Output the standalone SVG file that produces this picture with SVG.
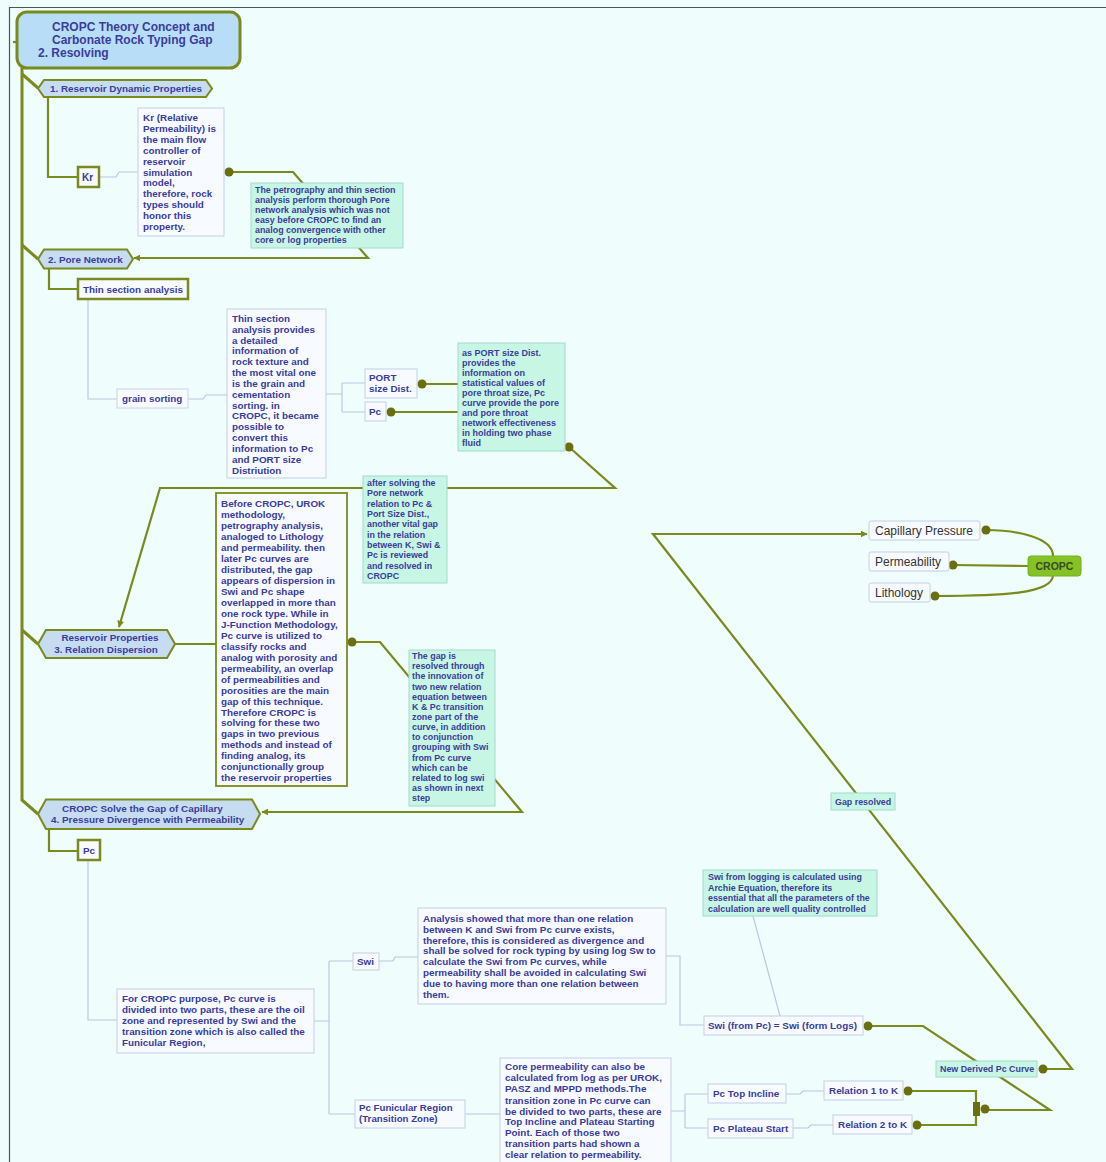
<svg xmlns="http://www.w3.org/2000/svg" width="1106" height="1162" viewBox="0 0 1106 1162">
<style>
.bg{fill:#effdfd}
.t{font-family:"Liberation Sans",Arial,sans-serif;font-weight:bold;fill:#3a3c9c}
.r{font-family:"Liberation Sans",Arial,sans-serif;fill:#333}
.olive{fill:none;stroke:#7a8a1c;stroke-width:2.2}
.trunk{fill:none;stroke:#7a8a1c;stroke-width:3}
.thin{fill:none;stroke:#b9c8e2;stroke-width:1.2}
.hex{fill:#c6dcf1;stroke:#7a8a1c;stroke-width:2}
.box{fill:#f7fbff;stroke:#c2cfe8;stroke-width:1}
.tbox{fill:#f7fbff;stroke:#7a8a1c;stroke-width:2.5}
.mint{fill:#c8f6e4;stroke:#a6d9c9;stroke-width:1}
.dot{fill:#6b6e0c}
.gbox{fill:#f7fbff;stroke:#c8d4ec;stroke-width:1}
</style>
<defs>
<marker id="arr" viewBox="0 0 10 10" refX="9" refY="5" markerWidth="7" markerHeight="7" orient="auto" markerUnits="userSpaceOnUse">
<path d="M0,0 L10,5 L0,10 z" fill="#7a8a1c"/>
</marker>
</defs>
<rect class="bg" x="0" y="0" width="1106" height="1162"/>
<path d="M9,7.5 H1106 M9.5,7 V1162" stroke="#4a5858" stroke-width="1.2" fill="none"/>
<g id="connectors">
<path class="trunk" d="M22,68 V800 L38,814"/>
<path class="trunk" d="M22,74 L38,88"/>
<path class="trunk" d="M22,245 L38,259"/>
<path class="trunk" d="M22,630 L38,644"/>
<path class="olive" d="M13,42 H17"/>
<path class="olive" d="M48,97 V177 H78"/>
<path class="olive" d="M49,269 V289 H78"/>
<path class="olive" d="M49,830 V851 H78"/>
<path class="olive" d="M175,644 H216"/>
<path class="thin" d="M99,177 H116 L119,172 H138"/>
<path class="thin" d="M88,299 V399 H117"/>
<path class="thin" d="M188,399 H203 L206,395 H227"/>
<path class="thin" d="M326,394 H342 M342,383 V412 M342,383 H365 M342,412 H365"/>
<path class="thin" d="M88,860 V1020 H117"/>
<path class="thin" d="M314,1021 H329 M329,961 V1114 M329,961 H353 M329,1114 H355"/>
<path class="thin" d="M379,961 H393 L395,957 H418"/>
<path class="thin" d="M666,956 H680 V1025 H704"/>
<path class="thin" d="M753,916 L780,1016"/>
<path class="thin" d="M465,1114 H500"/>
<path class="thin" d="M671,1111 H685 M685,1094 V1128 M685,1094 H708 M685,1128 H708"/>
<path class="thin" d="M786,1094 H800 L803,1091 H824"/>
<path class="thin" d="M793,1128 H808 L811,1125 H833"/>
<path class="olive" d="M229,172 H293 L368,258 H134" marker-end="url(#arr)"/>
<path class="olive" d="M422,384 H458 M391,412 H458"/>
<path class="olive" d="M569,447 L615,488 H160 L119,627" marker-end="url(#arr)"/>
<path class="olive" d="M352,642 H380 L522,812 H262" marker-end="url(#arr)"/>
<path class="olive" d="M868,1026 H923 L1050,1110 H985"/>
<path class="olive" d="M908,1091 H976 V1103 M917,1125 H976 V1116"/>
<rect x="973" y="1102" width="7" height="14" fill="#6b6e0c"/>
<path class="olive" d="M1043,1069 H1072 L653,534 H867" marker-end="url(#arr)"/>
<path class="olive" d="M1053,556 C1053,536 1012,530 986,530"/>
<path class="olive" d="M1028,566 L953,565"/>
<path class="olive" d="M1053,575 C1053,594 1000,596 935,596"/>
<circle class="dot" cx="229" cy="172" r="4.5"/>
<circle class="dot" cx="422" cy="384" r="4.5"/>
<circle class="dot" cx="391" cy="412" r="4.5"/>
<circle class="dot" cx="569" cy="447" r="4.5"/>
<circle class="dot" cx="352" cy="642" r="4.5"/>
<circle class="dot" cx="868" cy="1026" r="4.5"/>
<circle class="dot" cx="908" cy="1091" r="4.5"/>
<circle class="dot" cx="917" cy="1125" r="4.5"/>
<circle class="dot" cx="985" cy="1109" r="4.5"/>
<circle class="dot" cx="1043" cy="1069" r="4.5"/>
<circle class="dot" cx="986" cy="530" r="4.5"/>
<circle class="dot" cx="953" cy="565" r="4.5"/>
<circle class="dot" cx="935" cy="596" r="4.5"/>
</g>
<g id="title">
<rect x="17" y="12" width="223" height="56" rx="10" fill="#b8def7" stroke="#7a8a1c" stroke-width="3"/>
<text class="t" font-size="12"><tspan x="52" y="31">CROPC Theory Concept and</tspan><tspan x="52" y="44">Carbonate Rock Typing Gap</tspan><tspan x="38" y="57">2. Resolving</tspan></text>
</g>
<g id="n1">
<path class="hex" d="M38,88.5 L44,80 H206 L212,88.5 L206,97 H44 Z"/>
<text class="t" font-size="9.9" x="50" y="92">1. Reservoir Dynamic Properties</text>
</g>
<g id="kr">
<rect class="tbox" x="78" y="167" width="21" height="20"/>
<text class="t" font-size="10" x="82" y="181">Kr</text>
</g>
<g id="krnote">
<rect class="box" x="138" y="108" width="86" height="128"/>
<text class="t" font-size="9.9"><tspan x="143" y="121">Kr (Relative</tspan><tspan x="143" y="132">Permeability) is</tspan><tspan x="143" y="143">the main flow</tspan><tspan x="143" y="154">controller of</tspan><tspan x="143" y="165">reservoir</tspan><tspan x="143" y="176">simulation</tspan><tspan x="143" y="186">model,</tspan><tspan x="143" y="197">therefore, rock</tspan><tspan x="143" y="208">types should</tspan><tspan x="143" y="219">honor this</tspan><tspan x="143" y="230">property.</tspan></text>
</g>
<g id="petronote">
<rect class="mint" x="251" y="183" width="152" height="65"/>
<text class="t" font-size="8.9"><tspan x="255" y="193">The petrography and thin section</tspan><tspan x="255" y="203">analysis perform thorough Pore</tspan><tspan x="255" y="213">network analysis which was not</tspan><tspan x="255" y="223">easy before CROPC to find an</tspan><tspan x="255" y="233">analog convergence with other</tspan><tspan x="255" y="243">core or log properties</tspan></text>
</g>
<g id="n2">
<path class="hex" d="M38,259 L44,249.5 H127 L133,259 L127,268.5 H44 Z"/>
<text class="t" font-size="9.9" x="48" y="262.5">2. Pore Network</text>
</g>
<g id="thin">
<rect class="tbox" x="78" y="279" width="110" height="20"/>
<text class="t" font-size="9.9" x="83" y="293">Thin section analysis</text>
</g>
<g id="grain">
<rect class="gbox" x="117" y="389" width="71" height="19"/>
<text class="t" font-size="9.9" x="122" y="402">grain sorting</text>
</g>
<g id="thinnote">
<rect class="box" x="227" y="309" width="99" height="169"/>
<text class="t" font-size="9.9"><tspan x="232" y="322">Thin section</tspan><tspan x="232" y="333">analysis provides</tspan><tspan x="232" y="344">a detailed</tspan><tspan x="232" y="354">information of</tspan><tspan x="232" y="365">rock texture and</tspan><tspan x="232" y="376">the most vital one</tspan><tspan x="232" y="387">is the grain and</tspan><tspan x="232" y="398">cementation</tspan><tspan x="232" y="409">sorting. in</tspan><tspan x="232" y="419">CROPC, it became</tspan><tspan x="232" y="430">possible to</tspan><tspan x="232" y="441">convert this</tspan><tspan x="232" y="452">information to Pc</tspan><tspan x="232" y="463">and PORT size</tspan><tspan x="232" y="474">Distriution</tspan></text>
</g>
<g id="port">
<rect class="box" x="365" y="369" width="52" height="29"/>
<text class="t" font-size="9.9"><tspan x="369" y="381">PORT</tspan><tspan x="369" y="392">size Dist.</tspan></text>
</g>
<g id="pc1">
<rect class="box" x="365" y="402" width="21" height="19"/>
<text class="t" font-size="9.9" x="369" y="415">Pc</text>
</g>
<g id="portnote">
<rect class="mint" x="458" y="343" width="107" height="108"/>
<text class="t" font-size="9"><tspan x="462" y="356">as PORT size Dist.</tspan><tspan x="462" y="366">provides the</tspan><tspan x="462" y="376">information on</tspan><tspan x="462" y="386">statistical values of</tspan><tspan x="462" y="396">pore throat size, Pc</tspan><tspan x="462" y="406">curve provide the pore</tspan><tspan x="462" y="416">and pore throat</tspan><tspan x="462" y="426">network effectiveness</tspan><tspan x="462" y="436">in holding two phase</tspan><tspan x="462" y="446">fluid</tspan></text>
</g>
<g id="afternote">
<rect class="mint" x="363" y="476" width="84" height="107"/>
<text class="t" font-size="8.9"><tspan x="367" y="486">after solving the</tspan><tspan x="367" y="496">Pore network</tspan><tspan x="367" y="507">relation to Pc &amp;</tspan><tspan x="367" y="517">Port Size Dist.,</tspan><tspan x="367" y="527">another vital gap</tspan><tspan x="367" y="538">in the relation</tspan><tspan x="367" y="548">between K, Swi &amp;</tspan><tspan x="367" y="558">Pc is reviewed</tspan><tspan x="367" y="569">and resolved in</tspan><tspan x="367" y="579">CROPC</tspan></text>
</g>
<g id="n3">
<path class="hex" d="M38,644 L46,630 H167 L175,644 L167,658 H46 Z"/>
<text class="t" font-size="9.9" text-anchor="middle"><tspan x="110" y="641">Reservoir Properties</tspan><tspan x="106" y="653">3. Relation Dispersion</tspan></text>
</g>
<g id="beforenote">
<rect x="216" y="493" width="131" height="293" fill="#f7fbff" stroke="#7a8a1c" stroke-width="1.8"/>
<text class="t" font-size="9.9"><tspan x="221" y="507">Before CROPC, UROK</tspan><tspan x="221" y="518">methodology,</tspan><tspan x="221" y="529">petrography analysis,</tspan><tspan x="221" y="540">analoged to Lithology</tspan><tspan x="221" y="551">and permeability. then</tspan><tspan x="221" y="562">later Pc curves are</tspan><tspan x="221" y="573">distributed, the gap</tspan><tspan x="221" y="584">appears of dispersion in</tspan><tspan x="221" y="595">Swi and Pc shape</tspan><tspan x="221" y="606">overlapped in more than</tspan><tspan x="221" y="617">one rock type. While in</tspan><tspan x="221" y="628">J-Function Methodology,</tspan><tspan x="221" y="639">Pc curve is utilized to</tspan><tspan x="221" y="650">classify rocks and</tspan><tspan x="221" y="661">analog with porosity and</tspan><tspan x="221" y="672">permeability, an overlap</tspan><tspan x="221" y="683">of permeabilities and</tspan><tspan x="221" y="694">porosities are the main</tspan><tspan x="221" y="705">gap of this technique.</tspan><tspan x="221" y="716">Therefore CROPC is</tspan><tspan x="221" y="726">solving for these two</tspan><tspan x="221" y="737">gaps in two previous</tspan><tspan x="221" y="748">methods and instead of</tspan><tspan x="221" y="759">finding analog, its</tspan><tspan x="221" y="770">conjunctionally group</tspan><tspan x="221" y="781">the reservoir properties</tspan></text>
</g>
<g id="gapnote">
<rect class="mint" x="409" y="650" width="86" height="156"/>
<text class="t" font-size="8.9"><tspan x="412" y="659">The gap is</tspan><tspan x="412" y="669">resolved through</tspan><tspan x="412" y="679">the innovation of</tspan><tspan x="412" y="690">two new relation</tspan><tspan x="412" y="700">equation between</tspan><tspan x="412" y="710">K &amp; Pc transition</tspan><tspan x="412" y="720">zone part of the</tspan><tspan x="412" y="730">curve, in addition</tspan><tspan x="412" y="740">to conjunction</tspan><tspan x="412" y="750">grouping with Swi</tspan><tspan x="412" y="761">from Pc curve</tspan><tspan x="412" y="771">which can be</tspan><tspan x="412" y="781">related to log swi</tspan><tspan x="412" y="791">as shown in next</tspan><tspan x="412" y="801">step</tspan></text>
</g>
<g id="n4">
<path class="hex" d="M38,814 L46,799.5 H252 L260,814 L252,829 H46 Z"/>
<text class="t" font-size="9.9"><tspan x="62" y="812">CROPC Solve the Gap of Capillary</tspan><tspan x="51" y="823">4. Pressure Divergence with Permeability</tspan></text>
</g>
<g id="pc2">
<rect class="tbox" x="78" y="840" width="22" height="20"/>
<text class="t" font-size="9.9" x="83" y="854">Pc</text>
</g>
<g id="forcropc">
<rect class="box" x="117" y="989" width="197" height="64"/>
<text class="t" font-size="9.9"><tspan x="122" y="1002">For CROPC purpose, Pc curve is</tspan><tspan x="122" y="1013">divided into two parts, these are the oil</tspan><tspan x="122" y="1024">zone and represented by Swi and the</tspan><tspan x="122" y="1035">transition zone which is also called the</tspan><tspan x="122" y="1046">Funicular Region,</tspan></text>
</g>
<g id="swi">
<rect class="box" x="353" y="953" width="26" height="17"/>
<text class="t" font-size="9.9" x="357" y="965">Swi</text>
</g>
<g id="analysis">
<rect class="box" x="418" y="908" width="248" height="96"/>
<text class="t" font-size="9.9"><tspan x="423" y="922">Analysis showed that more than one relation</tspan><tspan x="423" y="933">between K and Swi from Pc curve exists,</tspan><tspan x="423" y="944">therefore, this is considered as divergence and</tspan><tspan x="423" y="954">shall be solved for rock typing by using log Sw to</tspan><tspan x="423" y="965">calculate the Swi from Pc curves, while</tspan><tspan x="423" y="976">permeability shall be avoided in calculating Swi</tspan><tspan x="423" y="987">due to having more than one relation between</tspan><tspan x="423" y="998">them.</tspan></text>
</g>
<g id="archie">
<rect class="mint" x="703" y="870" width="174" height="46"/>
<text class="t" font-size="8.9"><tspan x="708" y="880">Swi from logging is calculated using</tspan><tspan x="708" y="891">Archie Equation, therefore its</tspan><tspan x="708" y="901">essential that all the parameters of the</tspan><tspan x="708" y="912">calculation are well quality controlled</tspan></text>
</g>
<g id="swieq">
<rect class="box" x="704" y="1016" width="159" height="19"/>
<text class="t" font-size="9.9" x="708" y="1029">Swi (from Pc) = Swi (form Logs)</text>
</g>
<g id="funicular">
<rect class="box" x="355" y="1100" width="110" height="28"/>
<text class="t" font-size="9.7"><tspan x="359" y="1111">Pc Funicular Region</tspan><tspan x="359" y="1122">(Transition Zone)</tspan></text>
</g>
<g id="corenote">
<rect class="box" x="500" y="1058" width="171" height="106"/>
<text class="t" font-size="9.9"><tspan x="505" y="1070">Core permeability can also be</tspan><tspan x="505" y="1081">calculated from log as per UROK,</tspan><tspan x="505" y="1092">PASZ and MPPD methods.The</tspan><tspan x="505" y="1104">transition zone in Pc curve can</tspan><tspan x="505" y="1115">be divided to two parts, these are</tspan><tspan x="505" y="1125">Top Incline and Plateau Starting</tspan><tspan x="505" y="1136">Point. Each of those two</tspan><tspan x="505" y="1147">transition parts had shown a</tspan><tspan x="505" y="1158">clear relation to permeability.</tspan></text>
</g>
<g id="topincline">
<rect class="box" x="708" y="1084" width="78" height="19"/>
<text class="t" font-size="9.9" x="713" y="1097">Pc Top Incline</text>
</g>
<g id="plateau">
<rect class="box" x="708" y="1119" width="85" height="19"/>
<text class="t" font-size="9.9" x="713" y="1132">Pc Plateau Start</text>
</g>
<g id="rel1">
<rect class="box" x="824" y="1081" width="79" height="19"/>
<text class="t" font-size="9.9" x="829" y="1094">Relation 1 to K</text>
</g>
<g id="rel2">
<rect class="box" x="833" y="1115" width="79" height="19"/>
<text class="t" font-size="9.9" x="838" y="1128">Relation 2 to K</text>
</g>
<g id="newpc">
<rect class="mint" x="936" y="1061" width="101" height="16"/>
<text class="t" font-size="8.9" x="940" y="1072">New Derived Pc Curve</text>
</g>
<g id="gapresolved">
<rect class="mint" x="831" y="793" width="64" height="17"/>
<text class="t" font-size="8.9" x="835" y="805">Gap resolved</text>
</g>
<g id="cap">
<rect class="box" x="869" y="521" width="111" height="19" rx="2"/>
<text class="r" font-size="12" x="875" y="535">Capillary Pressure</text>
</g>
<g id="perm">
<rect class="box" x="869" y="552" width="80" height="19" rx="2"/>
<text class="r" font-size="12" x="875" y="566">Permeability</text>
</g>
<g id="lith">
<rect class="box" x="869" y="583" width="61" height="19" rx="2"/>
<text class="r" font-size="12" x="875" y="597">Lithology</text>
</g>
<g id="cropc">
<rect x="1028" y="556" width="53" height="20" rx="3" fill="#84c225" stroke="#76b01e" stroke-width="1"/>
<text class="t" font-size="10.5" x="1054.5" y="570" text-anchor="middle" style="fill:#3a4a28">CROPC</text>
</g>
</svg>
